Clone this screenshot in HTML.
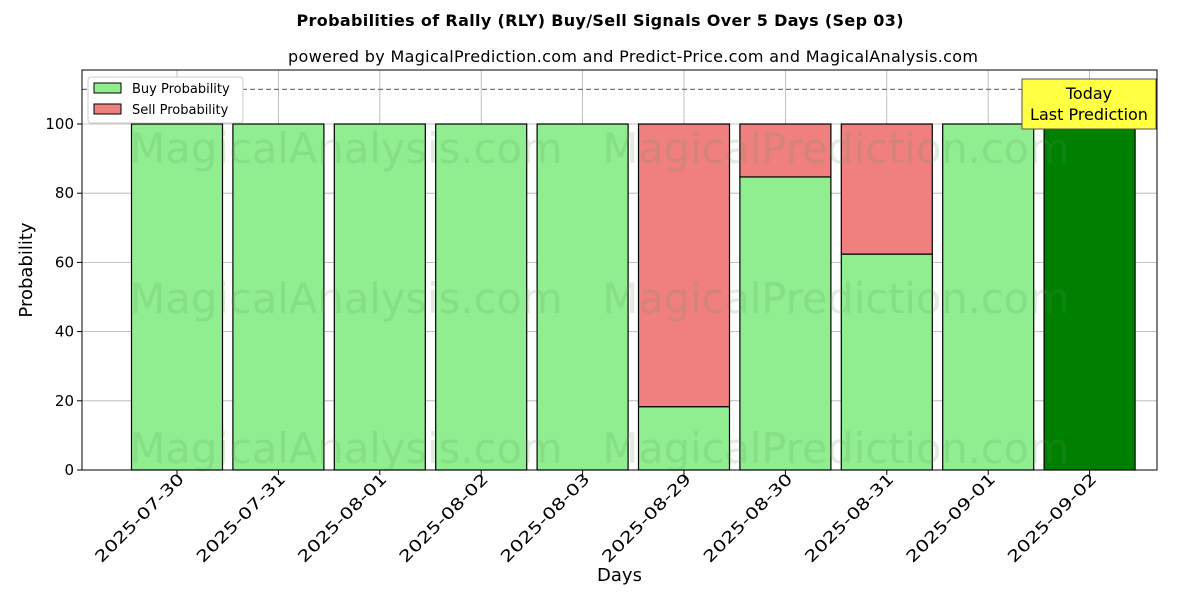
<!DOCTYPE html>
<html><head><meta charset="utf-8"><style>
body{margin:0;background:#fff;font-family:"Liberation Sans","DejaVu Sans",sans-serif}
svg text{font-family:"DejaVu Sans","Liberation Sans",sans-serif}
</style></head><body>
<svg id="chart" width="1200" height="600" xmlns="http://www.w3.org/2000/svg">
<rect width="1200" height="600" fill="#fff"/>
<text x="600" y="26" text-anchor="middle" font-size="16" font-weight="bold" textLength="607">Probabilities of Rally (RLY) Buy/Sell Signals Over 5 Days (Sep 03)</text>
<text x="633" y="62" text-anchor="middle" font-size="16" textLength="690">powered by MagicalPrediction.com and Predict-Price.com and MagicalAnalysis.com</text>
<g id="plot"></g>
</svg>
<script>
const categories=["2025-07-30","2025-07-31","2025-08-01","2025-08-02","2025-08-03","2025-08-29","2025-08-30","2025-08-31","2025-09-01","2025-09-02"];
const buyValues=[100,100,100,100,100,18.3,84.7,62.4,100,100];
const sellValues=[0,0,0,0,0,81.7,15.3,37.6,0,0];
const yTicks=[0,20,40,60,80,100];
const NS="http://www.w3.org/2000/svg";
const L=82,R=1157,T=70,B=470;
const yS=v=>B-v*3.46;
const xS=i=>177+i*101.4;
const bw=91;
const g=document.getElementById('plot');
function mk(t,a,p){const e=document.createElementNS(NS,t);for(const k in a)e.setAttribute(k,a[k]);(p||g).appendChild(e);return e;}
yTicks.forEach(v=>{const l=mk('line',{x1:L,x2:R,y1:yS(v),y2:yS(v),stroke:'#b0b0b0','stroke-width':0.8});

});
categories.forEach((c,i)=>{const l=mk('line',{x1:xS(i),x2:xS(i),y1:T,y2:B,stroke:'#b0b0b0','stroke-width':0.8});

});
categories.forEach((c,i)=>{
const last=i===categories.length-1;
const b=mk('rect',{x:xS(i)-bw/2,y:yS(buyValues[i]),width:bw,height:yS(0)-yS(buyValues[i]),fill:last?'#008000':'#90ee90',stroke:'#000','stroke-width':1.2});


if(sellValues[i]>0){const s=mk('rect',{x:xS(i)-bw/2,y:yS(buyValues[i]+sellValues[i]),width:bw,height:yS(buyValues[i])-yS(buyValues[i]+sellValues[i]),fill:'#f08080',stroke:'#000','stroke-width':1.2});

}
const tk=mk('line',{x1:xS(i),x2:xS(i),y1:B,y2:B+5,stroke:'#000'});


const t=mk('text',{x:0,y:0,'font-size':16,'text-anchor':'end',textLength:118,lengthAdjust:'spacingAndGlyphs',transform:`translate(${xS(i)+8},${B+10}) rotate(-45)`});t.textContent=c;


});
[[346,148,'MagicalAnalysis.com',433],[836,148,'MagicalPrediction.com',467],[346,298,'MagicalAnalysis.com',433],[836,298,'MagicalPrediction.com',467],[346,448,'MagicalAnalysis.com',433],[836,448,'MagicalPrediction.com',467]].forEach(w=>{
const t=mk('text',{x:w[0],y:w[1]+15,'text-anchor':'middle','font-size':42,textLength:w[3],lengthAdjust:'spacingAndGlyphs',fill:'rgba(90,150,90,0.18)'});t.textContent=w[2];

});
const d=mk('line',{x1:L,x2:R,y1:yS(110),y2:yS(110),stroke:'#777','stroke-dasharray':'5,3','stroke-width':1.2});


yTicks.forEach(v=>{const l=mk('line',{x1:L-5,x2:L,y1:yS(v),y2:yS(v),stroke:'#000'});


const t=mk('text',{x:L-8,y:yS(v)+5,'text-anchor':'end','font-size':15});t.textContent=v;

});
const f=mk('rect',{x:L,y:T,width:R-L,height:B-T,fill:'none',stroke:'#000','stroke-width':1});


const xt=mk('text',{x:(L+R)/2,y:581,'text-anchor':'middle','font-size':18});xt.textContent='Days';


const yt=mk('text',{x:0,y:0,'text-anchor':'middle','font-size':18,transform:`translate(32,${(T+B)/2}) rotate(-90)`});yt.textContent='Probability';


const ab=mk('rect',{x:1022,y:79,width:134,height:50,fill:'#ffff44',stroke:'#555'});


const a1=mk('text',{x:1089,y:99,'text-anchor':'middle','font-size':16});a1.textContent='Today';


const a2=mk('text',{x:1089,y:120,'text-anchor':'middle','font-size':16});a2.textContent='Last Prediction';


const lg=mk('rect',{x:88,y:77,width:155,height:46,fill:'#fff',stroke:'#ccc',rx:3});


[['Buy Probability','#90ee90',83],['Sell Probability','#f08080',104]].forEach(e=>{
const r=mk('rect',{x:94,y:e[2],width:27,height:10,fill:e[1],stroke:'#000'});


const t=mk('text',{x:132,y:e[2]+10,'font-size':13});t.textContent=e[0];

});
</script>
</body></html>
